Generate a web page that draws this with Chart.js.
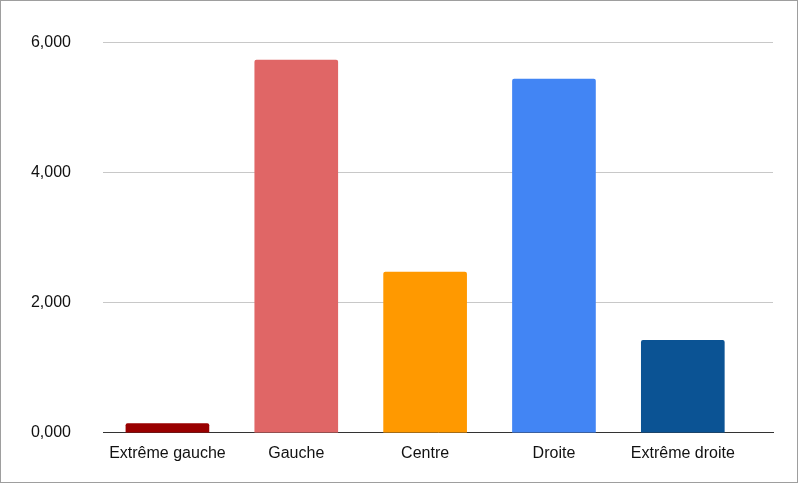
<!DOCTYPE html>
<html><head><meta charset="utf-8">
<script src="https://cdn.jsdelivr.net/npm/chart.js@4"></script>
<style>
html,body{margin:0;padding:0;background:#fff;}
#wrap{position:absolute;left:0;top:0;width:796px;height:481px;border:1px solid #9e9e9e;}
</style></head><body>
<div id="wrap"><canvas id="c"></canvas></div>
<script>
const categories = ['Extrême gauche', 'Gauche', 'Centre', 'Droite', 'Extrême droite'];
const values = [140, 5730, 2470, 5440, 1420];
const barColors = ['#990000', '#e06666', '#ff9900', '#4285f4', '#0b5394'];
const yTicks = ['0,000', '2,000', '4,000', '6,000'];

Chart.defaults.font.family = '"Liberation Sans", Arial, sans-serif';
Chart.defaults.color = '#111';

new Chart(document.getElementById('c').getContext('2d'), {
  type: 'bar',
  data: {
    datasets: [{
      data: values.map((v, i) => ({ x: i, y: v })),
      backgroundColor: barColors,
      borderRadius: { topLeft: 2, topRight: 2 }, borderSkipped: 'bottom',
      barThickness: 83
    }]
  },
  options: {
    responsive: true,
    maintainAspectRatio: false,
    animation: false,
    layout: { padding: { top: 26, right: 24, bottom: 16, left: 0 } },
    plugins: { legend: { display: false }, tooltip: { enabled: false } },
    scales: {
      x: {
        type: 'linear', min: -0.5, max: 4.7, offset: false,
        afterBuildTicks: s => { s.ticks = categories.map((c, i) => ({ value: i })); },
        grid: { display: false },
        border: { color: '#333', width: 1 },
        ticks: { font: { size: 16 }, color: '#111', maxRotation: 0, padding: 3,
          callback: v => categories[v] }
      },
      y: {
        min: 0, max: 6000,
        afterFit: s => { s.width = 102; },
        grid: { color: '#c8c8c8', drawTicks: false },
        border: { display: false },
        ticks: { stepSize: 2000, font: { size: 16 }, color: '#111', padding: 32,
          callback: (v, i) => yTicks[i] }
      }
    }
  }
});
</script>
</body></html>
